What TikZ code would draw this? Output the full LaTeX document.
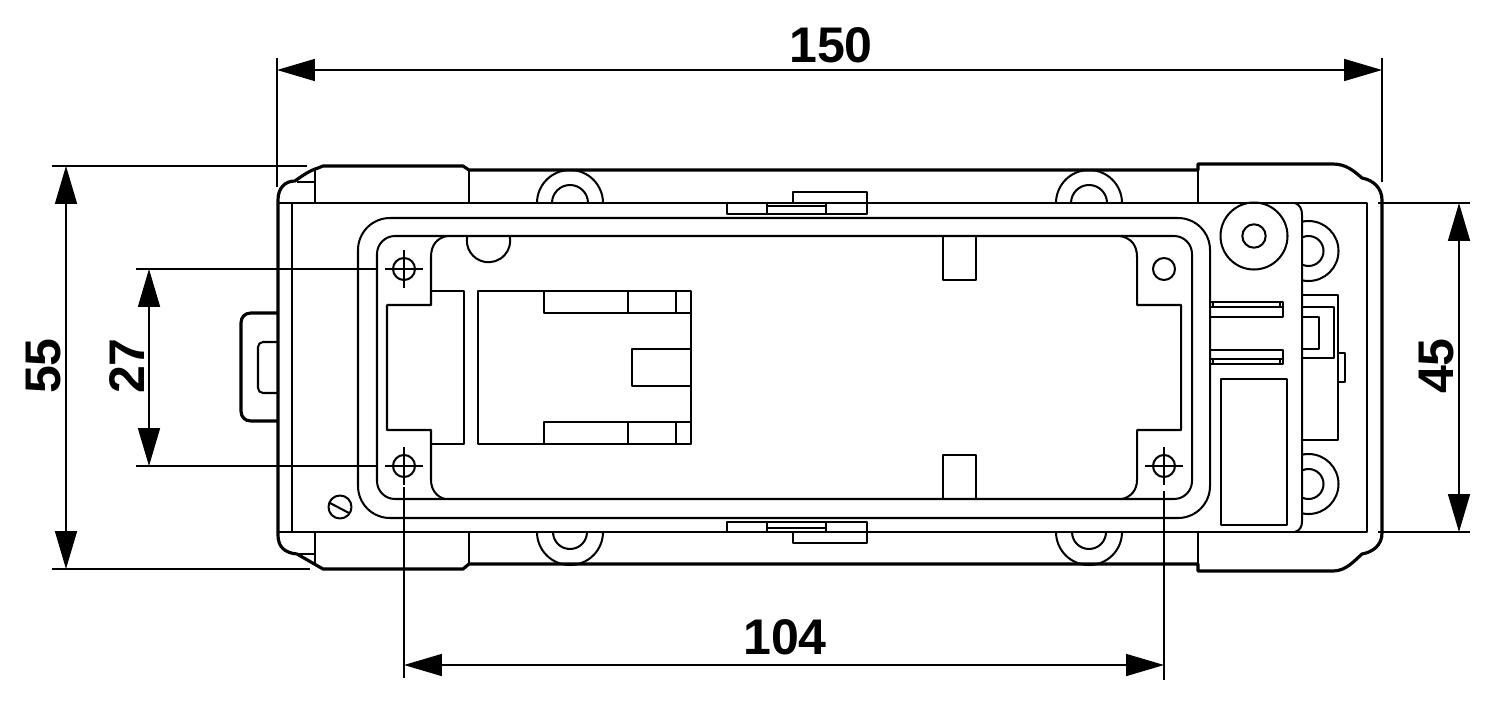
\documentclass[tikz,border=0pt]{standalone}
\usepackage{fontspec}
\setmainfont{Liberation Sans}
\usetikzlibrary{calc,positioning,arrows.meta}
\tikzset{
	edge/.style={line width=1.15pt,line join=round},
	hull/.style={line width=1.8pt,line join=round},
	thin line/.style={line width=0.8pt},
	dimline/.style={line width=0.8pt,{Triangle[length=21.5pt,width=12.5pt]}-{Triangle[length=21.5pt,width=12.5pt]}},
	dimtext/.style={font=\bfseries\fontsize{28.5}{28.5}\selectfont,inner sep=0pt}
}
\begin{document}
\begin{tikzpicture}[x=0.02cm,y=-0.02cm]
	\useasboundingbox (0,0) rectangle (1500,703);
	% housing
	\draw[hull] (278,313) -- (251,313) .. controls (245,313) and (241,317) .. (241,323) -- (241,411)
		.. controls (241,417) and (245,421) .. (251,421) -- (278,421);
	\draw[hull] (278,313) -- (278,200) .. controls (278,188) and (285,181) .. (295,181)
		.. controls (303,175) and (311,170) .. (318,168) -- (323,166) -- (463,166) -- (469,170)
		-- (1198,170) -- (1198,164) -- (1333,164) .. controls (1346,164) and (1354,171) .. (1362,178)
		.. controls (1373,180) and (1382,188) .. (1382,200) -- (1382,533)
		.. controls (1382,545) and (1373,552) .. (1362,554) .. controls (1354,561) and (1346,571) .. (1333,571)
		-- (1198,571) -- (1198,564) -- (469,564) -- (463,569) -- (323,569) -- (297,554)
		.. controls (285,553) and (278,547) .. (278,535) -- (278,421) -- (278,313);
	\draw[edge,rounded corners=0.1cm] (278,342) -- (258,342) -- (258,393) -- (278,393);
	\draw[edge] (278,203) -- (1367,203) -- (1367,532) -- (278,532)
		(292,203) -- (292,532)
		(315,168) -- (315,203) (469,170) -- (469,203)
		(1198,164) -- (1198,203) (315,532) -- (315,564) (469,532) -- (469,564) (1198,532) -- (1198,571)
		(297,182) -- (315,182) (297,554) -- (315,554);
	% bolt and mounting lugs
	\draw[edge] (340,507) circle (11.5) (330,503) -- (349,513);
	\foreach \cx in {570,1089} {
		\draw[edge] (\cx-33,203) arc (180:360:33) (\cx-18,203) arc (180:360:18);
		\draw[edge] (\cx-33,532) arc (180:0:33) (\cx-17,532) arc (180:0:17);
	}
	% clips
	\draw[edge] (793,203) -- (793,192) -- (867,192) -- (867,214) -- (727,214) -- (727,203)
		(767,203) -- (767,214) (826,203) -- (826,214) (767,206) -- (826,206);
	\draw[edge] (727,532) -- (727,522) -- (867,522) -- (867,543) -- (793,543) -- (793,532)
		(767,522) -- (767,532) (826,522) -- (826,532) (767,528) -- (826,528);
	% gasket frame
	\draw[edge,rounded corners=0.64cm] (358,218) rectangle (1210,518);
	\draw[edge,rounded corners=0.36cm] (377,236) rectangle (1192,499);
	\draw[edge] (447,236) .. controls (437,238) and (431,245) .. (431,257) -- (431,305) -- (387,305)
		-- (387,430) -- (431,430) -- (431,480) .. controls (431,490) and (437,497) .. (445,499);
	\draw[edge] (431,291) -- (464,291) -- (464,444) -- (431,444);
	\draw[edge] (1120,236) .. controls (1131,238) and (1137,245) .. (1137,257) -- (1137,305) -- (1181,305)
		-- (1181,430) -- (1137,430) -- (1137,480) .. controls (1137,490) and (1131,497) .. (1122,499);
	\draw[edge] (467.3,236) arc (192:-12:21.7);
	\draw[edge] (943,236) -- (943,280) -- (976,280) -- (976,236)
		(943,499) -- (943,455) -- (976,455) -- (976,499);
	% socket
	\draw[edge] (478,291) rectangle (691,444)
		(544,291) -- (544,313) -- (691,313) (628,291) -- (628,313) (676,291) -- (676,313)
		(544,444) -- (544,422) -- (691,422) (628,422) -- (628,444) (676,422) -- (676,444)
		(691,349) -- (632,349) -- (632,386) -- (691,386);
	% holes
	\foreach \hx/\hy in {404/269,404/466,1164/466} {
		\draw[edge] (\hx,\hy) circle (11);
		\draw[thin line] (\hx-19,\hy) -- (\hx+19,\hy) (\hx,\hy-19) -- (\hx,\hy+19);
	}
	\draw[edge] (1164,269) circle (11);
	% right end
	\draw[edge] (1295,203) .. controls (1300,205) and (1302,209) .. (1302,215) -- (1302,521)
		.. controls (1302,527) and (1300,530) .. (1295,532);
	\draw[edge] (1254,236) circle (33.5) (1254,236) circle (11.7);
	\begin{scope}
		\clip (1302,200) rectangle (1400,540);
		\draw[edge] (1308.5,251) circle (30) (1308.5,251) circle (15)
			(1308.5,484) circle (30) (1308.5,484) circle (15);
	\end{scope}
	\draw[edge] (1302,295) -- (1338,295) -- (1338,440) -- (1302,440)
		(1302,307) -- (1334,307) -- (1334,358) -- (1302,358)
		(1302,317) -- (1319,317) -- (1319,349) -- (1302,349)
		(1338,353) -- (1345,353) -- (1345,382) -- (1338,382);
	\draw[edge] (1210,302) rectangle (1283,317) (1210,307) -- (1283,307)
		(1213,302) -- (1213,307) (1280,302) -- (1280,307)
		(1210,350) rectangle (1283,364) (1210,359) -- (1283,359)
		(1213,359) -- (1213,364) (1280,359) -- (1280,364);
	\draw[edge] (1221,379) rectangle (1287,525);
	% dimensions
	\coordinate (wL) at (277,70);
	\coordinate (wR) at (1382,70);
	\coordinate (hT) at (66,166);
	\coordinate (hB) at (66,569);
	\coordinate (pT) at (149,269);
	\coordinate (pB) at (149,466);
	\coordinate (bT) at (1459,203);
	\coordinate (bB) at (1459,532);
	\coordinate (sL) at (404,665);
	\coordinate (sR) at (1164,665);
	\draw[thin line] (277,58) -- (277,187) (1382,58) -- (1382,182)
		(52,166) -- (307,166) (52,569) -- (310,569)
		(136,269) -- (377,269) (136,466) -- (377,466)
		(1378,203) -- (1470,203) (1378,532) -- (1470,532)
		(404,487) -- (404,678) (1164,491) -- (1164,680);
	\draw[dimline] (wL) -- (wR);
	\draw[dimline] (hT) -- (hB);
	\draw[dimline] (pT) -- (pB);
	\draw[dimline] (bT) -- (bB);
	\draw[dimline] (sL) -- (sR);
	\node[dimtext] (w150) at (831,45) {150};
	\node[dimtext,rotate=90] (h55) at (44,366) {55};
	\node[dimtext,rotate=90] (p27) at (127,366) {27};
	\node[dimtext,rotate=90] (b45) at (1436,366) {45};
	\node[dimtext] (s104) at (785,637) {104};
\end{tikzpicture}
\end{document}
